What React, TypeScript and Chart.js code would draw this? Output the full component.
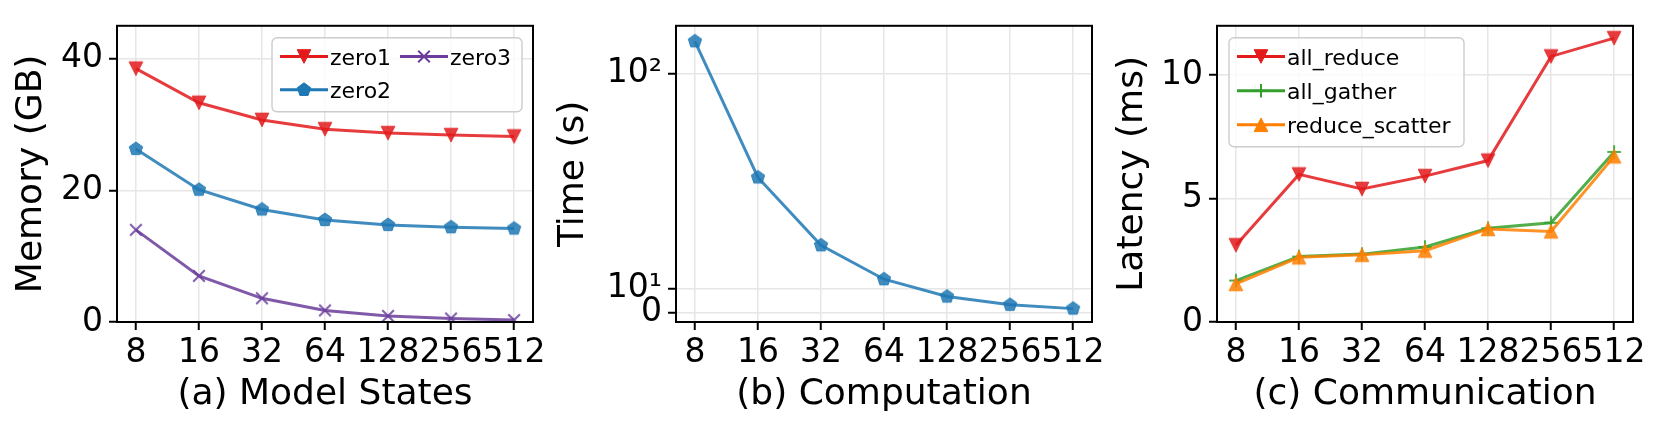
import React, { useEffect, useRef } from 'react';
import { Chart, registerables, LinearScale } from 'chart.js';

// ---------------- data ----------------
const nodeCounts = ['8', '16', '32', '64', '128', '256', '512'];

const zero1 = [38.5, 33.3, 30.7, 29.3, 28.7, 28.4, 28.2];
const zero2 = [26.3, 20.1, 17.1, 15.5, 14.75, 14.4, 14.2];
const zero3 = [14.0, 7.0, 3.6, 1.76, 0.93, 0.54, 0.3];

const computeTime = [141.8, 33.0, 15.95, 11.09, 6.8, 3.33, 1.73];

const allReduce = [3.11, 5.98, 5.39, 5.91, 6.54, 10.76, 11.5];
const allGather = [1.68, 2.65, 2.75, 3.04, 3.8, 4.02, 6.89];
const reduceScatter = [1.54, 2.62, 2.72, 2.89, 3.77, 3.67, 6.71];

const memoryTicks = [0, 20, 40];
const timeTicks = [0, 10, 100];
const timeTickLabels = ['0', '10\u00b9', '10\u00b2'];
const latencyTicks = [0, 5, 10];

// ---------------- styles ----------------
const RED = [227, 26, 28];
const BLUE = [31, 120, 180];
const PURPLE = [106, 61, 154];
const GREEN = [51, 160, 44];
const ORANGE = [255, 127, 0];
const LINE_ALPHA = 0.85;
const rgba = (c: number[], a = 1) => `rgba(${c[0]},${c[1]},${c[2]},${a})`;
const FONT = "'DejaVu Sans'";
const TICK_SIZE = 33;

// ---------------- symlog scale (linthresh 10, linscale 0.1) ----------------
const LIN_THRESH = 10;
const LIN_SCALE_ADJ = 0.1 / (1 - 1 / 10);
function symT(v: number) {
  const a = Math.abs(v);
  if (a <= LIN_THRESH) return v * LIN_SCALE_ADJ;
  return Math.sign(v) * LIN_THRESH * (LIN_SCALE_ADJ + Math.log10(a / LIN_THRESH));
}
function symInv(t: number) {
  const a = Math.abs(t);
  if (a <= LIN_THRESH * LIN_SCALE_ADJ) return t / LIN_SCALE_ADJ;
  return Math.sign(t) * LIN_THRESH * Math.pow(10, a / LIN_THRESH - LIN_SCALE_ADJ);
}
class SymlogScale extends LinearScale {
  static id = 'symlog';
  static defaults = {};
  _ts = 0;
  _tr = 1;
  configure() {
    super.configure();
    this._ts = symT(this.min);
    this._tr = symT(this.max) - this._ts;
  }
  getPixelForValue(v: number) {
    return this.getPixelForDecimal((symT(v) - this._ts) / this._tr);
  }
  getValueForPixel(p: number) {
    return symInv(this._ts + this.getDecimalForPixel(p) * this._tr);
  }
}

Chart.register(...registerables, SymlogScale);
Chart.defaults.font.family = FONT;
Chart.defaults.color = '#000';

// ---------------- markers ----------------
function drawMarker(ctx: CanvasRenderingContext2D, kind: string, x: number, y: number, color: string) {
  ctx.save();
  ctx.fillStyle = color;
  ctx.strokeStyle = color;
  ctx.beginPath();
  if (kind === 'v' || kind === '^') {
    const h = 6.8;
    const s = kind === 'v' ? 1 : -1;
    ctx.moveTo(x - h, y - s * h);
    ctx.lineTo(x + h, y - s * h);
    ctx.lineTo(x, y + s * h);
    ctx.closePath();
    ctx.lineWidth = 1;
    ctx.fill();
    ctx.stroke();
  } else if (kind === 'p') {
    const r = 7;
    for (let k = 0; k < 5; k++) {
      const a = -Math.PI / 2 + (k * 2 * Math.PI) / 5;
      const px = x + r * Math.cos(a);
      const py = y + r * Math.sin(a);
      if (k === 0) ctx.moveTo(px, py);
      else ctx.lineTo(px, py);
    }
    ctx.closePath();
    ctx.lineWidth = 1;
    ctx.fill();
    ctx.stroke();
  } else if (kind === 'x') {
    const h = 5.8;
    ctx.moveTo(x - h, y - h);
    ctx.lineTo(x + h, y + h);
    ctx.moveTo(x - h, y + h);
    ctx.lineTo(x + h, y - h);
    ctx.lineWidth = 2;
    ctx.stroke();
  } else if (kind === '+') {
    const h = 6.8;
    ctx.moveTo(x - h, y);
    ctx.lineTo(x + h, y);
    ctx.moveTo(x, y - h);
    ctx.lineTo(x, y + h);
    ctx.lineWidth = 2;
    ctx.stroke();
  }
  ctx.restore();
}

function markerImage(kind: string, color: string) {
  const c = document.createElement('canvas');
  c.width = 20;
  c.height = 20;
  const ctx = c.getContext('2d')!;
  drawMarker(ctx, kind, 10, 10, color);
  return c;
}

// ---------------- legend + frame plugin ----------------
type LegendItem = { label: string; color: number[]; marker: string; col: number; row: number };
type LegendSpec = {
  anchor: 'left' | 'right';
  offX: number;
  offY: number;
  w: number;
  h: number;
  colX: number[];
  rowY: number[];
  items: LegendItem[];
};

function roundRectPath(ctx: CanvasRenderingContext2D, x: number, y: number, w: number, h: number, r: number) {
  ctx.beginPath();
  ctx.moveTo(x + r, y);
  ctx.lineTo(x + w - r, y);
  ctx.arcTo(x + w, y, x + w, y + r, r);
  ctx.lineTo(x + w, y + h - r);
  ctx.arcTo(x + w, y + h, x + w - r, y + h, r);
  ctx.lineTo(x + r, y + h);
  ctx.arcTo(x, y + h, x, y + h - r, r);
  ctx.lineTo(x, y + r);
  ctx.arcTo(x, y, x + r, y, r);
  ctx.closePath();
}

function framePlugin(legend?: LegendSpec) {
  return {
    id: 'frameLegend',
    afterDatasetsDraw(chart: any) {
      const { ctx, chartArea: a } = chart;
      ctx.save();
      ctx.strokeStyle = '#000';
      ctx.lineWidth = 2;
      ctx.strokeRect(a.left, a.top, a.right - a.left, a.bottom - a.top);
      if (legend) {
        const x0 = legend.anchor === 'right' ? a.right - legend.offX - legend.w : a.left + legend.offX;
        const y0 = a.top + legend.offY;
        roundRectPath(ctx, x0, y0, legend.w, legend.h, 5);
        ctx.fillStyle = 'rgba(255,255,255,0.8)';
        ctx.fill();
        ctx.strokeStyle = '#cccccc';
        ctx.lineWidth = 1.4;
        ctx.stroke();
        for (const it of legend.items) {
          const lx = x0 + legend.colX[it.col];
          const ly = y0 + legend.rowY[it.row];
          ctx.beginPath();
          ctx.moveTo(lx, ly);
          ctx.lineTo(lx + 48, ly);
          ctx.strokeStyle = rgba(it.color);
          ctx.lineWidth = 3;
          ctx.stroke();
          drawMarker(ctx, it.marker, lx + 24, ly, rgba(it.color));
          ctx.fillStyle = '#000';
          ctx.font = `22px ${FONT}`;
          ctx.textBaseline = 'alphabetic';
          ctx.textAlign = 'left';
          ctx.fillText(it.label, lx + 50, ly + 8);
        }
      }
      ctx.restore();
    },
  };
}

// ---------------- config builder ----------------
const GRID = { color: '#e6e6e6', lineWidth: 1.5, tickColor: '#000', tickWidth: 2, tickLength: 8 };

function series(values: number[], label: string, color: number[], marker: string, order: number) {
  return {
    label,
    data: values.map((v, i) => ({ x: i, y: v })),
    borderColor: rgba(color, LINE_ALPHA),
    backgroundColor: rgba(color, LINE_ALPHA),
    borderWidth: 3,
    pointStyle: markerImage(marker, rgba(color, LINE_ALPHA)),
    pointRadius: 7,
    tension: 0,
    fill: false,
    order,
  };
}

function makeConfig(opts: {
  datasets: any[];
  y: any;
  xTitle: string;
  yTitle: string;
  yTitlePad: number;
  yAxisW: number;
  rightPad: number;
  legend?: LegendSpec;
}) {
  return {
    type: 'line',
    data: { datasets: opts.datasets },
    plugins: [framePlugin(opts.legend)],
    options: {
      animation: false,
      responsive: false,
      maintainAspectRatio: false,
      events: [],
      layout: { padding: { left: 0, right: opts.rightPad, top: 16, bottom: 0 } },
      plugins: { legend: { display: false }, tooltip: { enabled: false } },
      scales: {
        x: {
          type: 'linear',
          min: -0.3,
          max: nodeCounts.length - 0.7,
          afterBuildTicks: (s: any) => {
            s.ticks = nodeCounts.map((_, i) => ({ value: i }));
          },
          afterFit: (s: any) => {
            s.height = 108;
          },
          ticks: {
            autoSkip: false,
            maxRotation: 0,
            minRotation: 0,
            padding: 4,
            color: '#000',
            font: { size: TICK_SIZE },
            callback: (_v: any, i: number) => nodeCounts[i],
          },
          grid: GRID,
          border: { display: false },
          title: {
            display: true,
            text: opts.xTitle,
            color: '#000',
            font: { size: 36 },
            padding: { top: 0, bottom: 14 },
          },
        },
        y: {
          ...opts.y,
          afterFit: (s: any) => {
            s.width = opts.yAxisW;
          },
          grid: GRID,
          border: { display: false },
          title: {
            display: true,
            text: opts.yTitle,
            color: '#000',
            font: { size: 36 },
            padding: { top: opts.yTitlePad, bottom: 0 },
          },
        },
      },
    },
  };
}

const yTickStyle = (labels: string[]) => ({
  autoSkip: false,
  padding: 6,
  color: '#000',
  font: { size: TICK_SIZE },
  callback: (_v: any, i: number) => labels[i],
});

const configA = () =>
  makeConfig({
    datasets: [
      series(zero1, 'zero1', RED, 'v', 2),
      series(zero2, 'zero2', BLUE, 'p', 1),
      series(zero3, 'zero3', PURPLE, 'x', 0),
    ],
    y: {
      type: 'linear',
      min: 0,
      max: 45,
      afterBuildTicks: (s: any) => {
        s.ticks = memoryTicks.map((v) => ({ value: v }));
      },
      ticks: yTickStyle(memoryTicks.map(String)),
    },
    xTitle: '(a) Model States',
    yTitle: 'Memory (GB)',
    yTitlePad: 10,
    yAxisW: 117,
    rightPad: 37,
    legend: {
      anchor: 'right',
      offX: 11,
      offY: 12,
      w: 250,
      h: 74,
      colX: [8, 128],
      rowY: [18.7, 52],
      items: [
        { label: 'zero1', color: RED, marker: 'v', col: 0, row: 0 },
        { label: 'zero2', color: BLUE, marker: 'p', col: 0, row: 1 },
        { label: 'zero3', color: PURPLE, marker: 'x', col: 1, row: 0 },
      ],
    },
  });

const configB = () =>
  makeConfig({
    datasets: [series(computeTime, 'time', BLUE, 'p', 0)],
    y: {
      type: 'symlog',
      min: -3.87,
      max: 167.4,
      afterBuildTicks: (s: any) => {
        s.ticks = timeTicks.map((v) => ({ value: v }));
      },
      ticks: yTickStyle(timeTickLabels),
    },
    xTitle: '(b) Computation',
    yTitle: 'Time (s)',
    yTitlePad: 12.4,
    yAxisW: 136,
    rightPad: 23,
  });

const configC = () =>
  makeConfig({
    datasets: [
      series(allReduce, 'all_reduce', RED, 'v', 2),
      series(allGather, 'all_gather', GREEN, '+', 1),
      series(reduceScatter, 'reduce_scatter', ORANGE, '^', 0),
    ],
    y: {
      type: 'linear',
      min: 0,
      max: 12,
      afterBuildTicks: (s: any) => {
        s.ticks = latencyTicks.map((v) => ({ value: v }));
      },
      ticks: yTickStyle(latencyTicks.map(String)),
    },
    xTitle: '(c) Communication',
    yTitle: 'Latency (ms)',
    yTitlePad: 16.4,
    yAxisW: 122,
    rightPad: 29,
    legend: {
      anchor: 'left',
      offX: 12,
      offY: 12,
      w: 235,
      h: 109,
      colX: [8],
      rowY: [18.7, 53, 87],
      items: [
        { label: 'all_reduce', color: RED, marker: 'v', col: 0, row: 0 },
        { label: 'all_gather', color: GREEN, marker: '+', col: 0, row: 1 },
        { label: 'reduce_scatter', color: ORANGE, marker: '^', col: 0, row: 2 },
      ],
    },
  });

function Panel({ left, width, build }: { left: number; width: number; build: () => any }) {
  const ref = useRef<HTMLCanvasElement | null>(null);
  useEffect(() => {
    const chart = new Chart(ref.current as HTMLCanvasElement, build());
    return () => chart.destroy();
  }, []);
  return (
    <canvas
      ref={ref}
      width={width}
      height={430}
      style={{ position: 'absolute', left, top: 0, width, height: 430, display: 'block' }}
    />
  );
}

export default function App() {
  return (
    <div
      style={{
        position: 'fixed',
        left: 0,
        top: 0,
        width: 1662,
        height: 430,
        background: '#fff',
        overflow: 'hidden',
      }}
    >
      <Panel left={0} width={570} build={configA} />
      <Panel left={540} width={575} build={configB} />
      <Panel left={1095} width={567} build={configC} />
    </div>
  );
}
